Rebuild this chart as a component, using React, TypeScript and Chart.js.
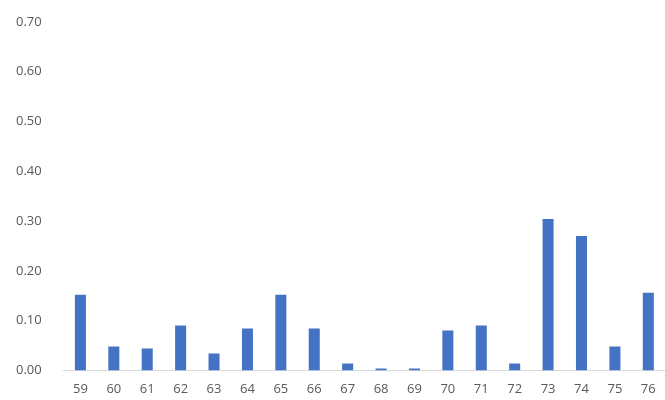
import { Chart } from 'chart.js/auto';
import { useEffect, useRef } from 'react';

const categories = ['59', '60', '61', '62', '63', '64', '65', '66', '67', '68', '69', '70', '71', '72', '73', '74', '75', '76'];
const values = [0.152, 0.048, 0.044, 0.09, 0.034, 0.084, 0.152, 0.084, 0.014, 0.004, 0.004, 0.08, 0.09, 0.014, 0.304, 0.27, 0.048, 0.156];

export default function App() {
    const canvasRef = useRef<HTMLCanvasElement>(null);

    useEffect(() => {
        if (!canvasRef.current) return;
        const chart = new Chart(canvasRef.current, {
            type: 'bar',
            data: {
                labels: categories,
                datasets: [{ data: values, backgroundColor: '#4472C4', barPercentage: 0.33, categoryPercentage: 1 }]
            },
            options: {
                responsive: true,
                maintainAspectRatio: false,
                animation: false,
                layout: { padding: { top: 6, right: 0, left: 2, bottom: 0 } },
                scales: {
                    y: {
                        min: 0,
                        max: 0.7,
                        ticks: { stepSize: 0.1, color: '#595959', font: { family: 'Open Sans', size: 13 }, padding: 14, callback: (v) => Number(v).toFixed(2) },
                        grid: { display: false },
                        border: { display: false }
                    },
                    x: {
                        ticks: { color: '#595959', font: { family: 'Open Sans', size: 13 } },
                        grid: { display: false },
                        border: { color: '#d9d9d9' }
                    }
                },
                plugins: { legend: { display: false }, tooltip: { enabled: false } }
            }
        });
        return () => chart.destroy();
    }, []);

    return (
        <div style={{ position: 'fixed', left: 0, top: 0, width: 665, height: 400, background: '#fff' }}>
            <canvas ref={canvasRef} />
        </div>
    );
}
